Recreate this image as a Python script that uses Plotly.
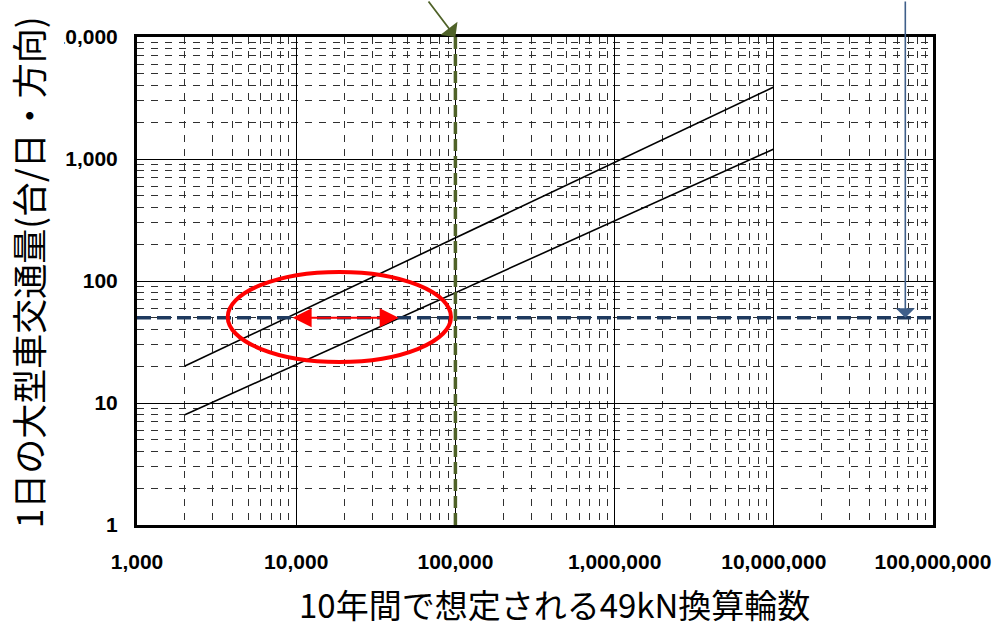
import math
import plotly.graph_objects as go

# Axis ticks
x_tickvals = [1e3, 1e4, 1e5, 1e6, 1e7, 1e8]
x_ticktext = ["1,000", "10,000", "100,000", "1,000,000", "10,000,000", "100,000,000"]
y_tickvals = [1, 10, 100, 1000, 10000]
y_ticktext = ["1", "10", "100", "1,000", "10,000"]

# Design lines: 10-year 49kN equivalent wheel count vs. daily heavy traffic
upper_x = [2000, 10000000]
upper_y = [20.1, 3890]
lower_x = [2000, 10000000]
lower_y = [8.0, 1208]

# Reference thresholds
traffic_limit = 50          # heavy vehicles / day / direction
wheels_limit = 100000       # 49kN equivalent wheels in 10 years

# Points of interest
upper_cross_x = 9500
lower_cross_x = 45000
blue_arrow_x = 67000000

# Highlight ellipse (data units)
ell_x = [3715, 93800]
ell_y = [21.7, 118.6]

BLACK = "#000000"
GREEN = "#4F6228"
NAVY = "#1F3A5F"
BLUE_ARROW = "#3F5F8A"
RED = "#FF0000"
CJK = "Noto Sans CJK JP"

fig = go.Figure()

fig.add_trace(go.Scatter(x=upper_x, y=upper_y, mode="lines",
                         line=dict(color=BLACK, width=1.6), showlegend=False))
fig.add_trace(go.Scatter(x=lower_x, y=lower_y, mode="lines",
                         line=dict(color=BLACK, width=1.6), showlegend=False))

fig.add_trace(go.Scatter(x=[x_tickvals[0], x_tickvals[-1]], y=[traffic_limit, traffic_limit],
                         mode="lines", line=dict(color=NAVY, width=3.5, dash="14px,6px"),
                         showlegend=False))
fig.add_trace(go.Scatter(x=[wheels_limit, wheels_limit], y=[y_tickvals[0], y_tickvals[-1]],
                         mode="lines", line=dict(color=GREEN, width=3.5, dash="12px,5px"),
                         showlegend=False))

# Red ellipse around the two crossing points
fig.add_shape(type="circle", xref="x", yref="y",
              x0=ell_x[0], x1=ell_x[1], y0=ell_y[0], y1=ell_y[1],
              line=dict(color=RED, width=4))

# Red double-headed arrow between the crossing points
fig.add_annotation(x=math.log10(upper_cross_x), y=math.log10(traffic_limit),
                   ax=math.log10(lower_cross_x), ay=math.log10(traffic_limit),
                   xref="x", yref="y", axref="x", ayref="y", text="",
                   showarrow=True, arrowhead=2, startarrowhead=2, arrowside="end+start",
                   arrowsize=1.9, startarrowsize=1.9, arrowwidth=2, arrowcolor=RED)

# Green arrow pointing to the top of the 100,000 line
fig.add_annotation(x=math.log10(wheels_limit), y=math.log10(y_tickvals[-1]),
                   xref="x", yref="y", ax=-28, ay=-42, text="",
                   showarrow=True, arrowhead=1, arrowsize=2, arrowwidth=1.8,
                   arrowcolor=GREEN)

# Blue arrow pointing down to the 50 vehicles line
fig.add_annotation(x=math.log10(blue_arrow_x), y=math.log10(traffic_limit),
                   xref="x", yref="y", ax=0, ay=-330, text="",
                   showarrow=True, arrowhead=1, arrowsize=2, arrowwidth=1.6,
                   arrowcolor=BLUE_ARROW)

# Y axis title (white box, drawn over the axis labels)
fig.add_annotation(text="1日の大型車交通量(台/日・方向)", xref="paper", yref="paper",
                   x=-0.137, y=0.518, textangle=-90, showarrow=False,
                   xanchor="center", yanchor="middle", bgcolor="white",
                   height=70, valign="middle",
                   font=dict(family=CJK, size=35, color=BLACK))

# X axis title
fig.add_annotation(text="10年間で想定される49kN換算輪数", xref="paper", yref="paper",
                   x=0.5244, y=-0.162, showarrow=False,
                   xanchor="center", yanchor="middle",
                   font=dict(family=CJK, size=33, color=BLACK))

axis_common = dict(
    type="log",
    showline=True, linecolor=BLACK, linewidth=3, mirror=True,
    showgrid=True, gridcolor=BLACK, gridwidth=1,
    ticks="", zeroline=False,
    tickfont=dict(family="Liberation Sans", size=21, color=BLACK, weight="bold"),
    minor=dict(dtick="D1", showgrid=True, gridcolor="#303030", gridwidth=1,
               griddash="7px,7px", ticks=""),
)

fig.update_xaxes(**axis_common, range=[3, 8], tickvals=x_tickvals, ticktext=x_ticktext,
                 ticklabelstandoff=16)
fig.update_yaxes(**axis_common, range=[0, 4], tickvals=y_tickvals, ticktext=y_ticktext,
                 ticklabelstandoff=12)

fig.update_layout(
    width=1003, height=627,
    margin=dict(l=137, r=67, t=37, b=102),
    paper_bgcolor="white", plot_bgcolor="white",
    showlegend=False,
)

fig.write_html("out.html")
